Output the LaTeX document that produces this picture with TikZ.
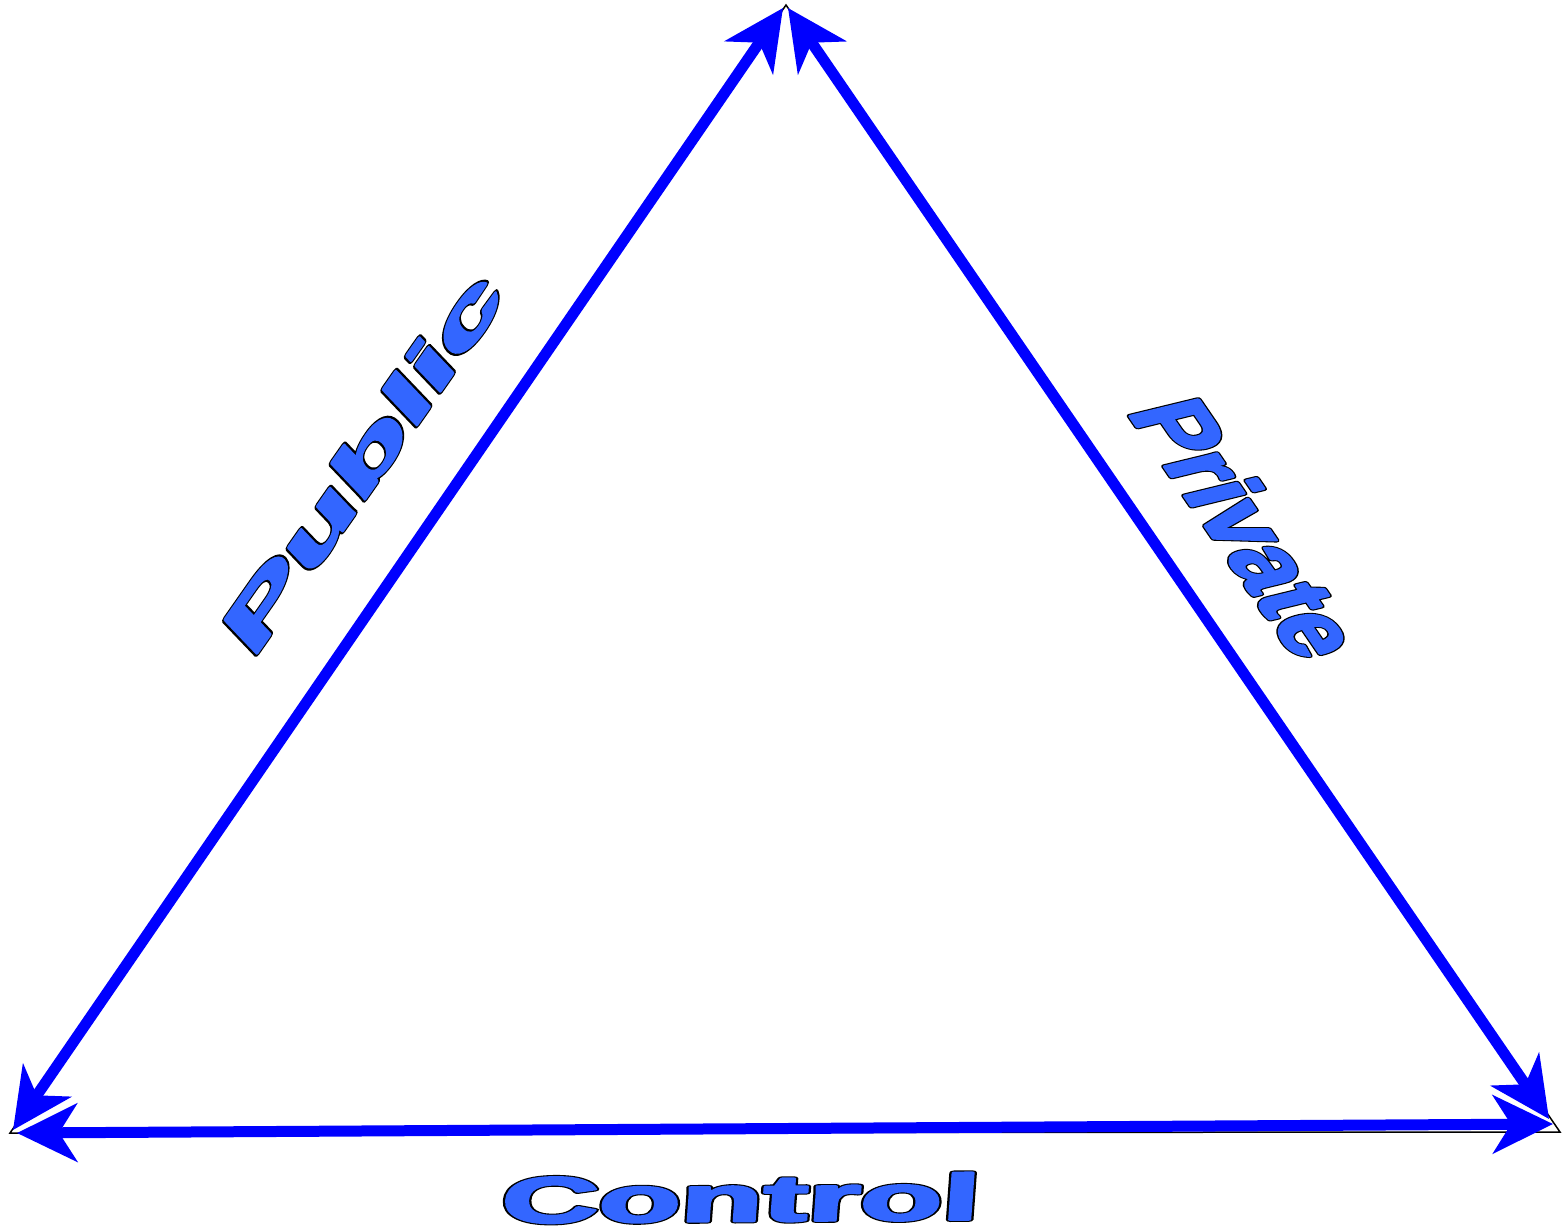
\documentclass[tikz,border=0pt]{standalone}
\usepackage{fontspec}
\setmainfont{Liberation Sans}
\usetikzlibrary{arrows.meta}
\definecolor{arrowblue}{RGB}{0,0,255}
\definecolor{wordblue}{RGB}{51,102,255}
% two layers: a black stroked copy under a blue stroked copy, giving a heavy blue word with a black outline
\newcommand\heavyword[3]{\rlap{\special{pdf:literal direct 2 Tr #3 w 1 j 0 0 0 RG 0 0 0 rg}#1}%
  \special{pdf:literal direct 2 Tr #2 w 1 j 0.2 0.4 1 RG 0.2 0.4 1 rg}#1\special{pdf:literal direct 0 Tr}}
\tikzset{
  side/.style={draw=arrowblue, line width=11pt,
    {Stealth[length=60pt,width=58pt,inset=18pt]}-{Stealth[length=60pt,width=58pt,inset=18pt]}},
  frame/.style={draw=black, line width=1.5pt, line join=miter},
  wordart/.style={inner sep=0pt, anchor=center, text=wordblue, font=\bfseries},
}
\begin{document}
\begin{tikzpicture}[x=1pt,y=-1pt]
\useasboundingbox (0,0) rectangle (1562,1229);
% thin black triangle behind the arrows
\coordinate (A) at (786,5);
\coordinate (B) at (10,1133);
\coordinate (C) at (1560,1132);
\draw[frame] (A) -- (B) -- (C) -- cycle;
% arrow end points
\coordinate (TL) at (783,8);
\coordinate (TR) at (788,8);
\coordinate (L1) at (13,1130);
\coordinate (L2) at (17,1133);
\coordinate (R1) at (1549,1119);
\coordinate (R2) at (1553,1124);
\draw[side] (TL) -- (L1);
\draw[side] (TR) -- (R1);
\draw[side] (L2) -- (R2);
% labels
\coordinate (pubc) at (362,462);
\coordinate (pric) at (1248,528);
\coordinate (conc) at (741,1198);
\node[wordart, rotate=55, xslant=0.2, xscale=2.2, font=\bfseries\fontsize{67}{70}\selectfont] (public) at (pubc) {\heavyword{Public}{2.2}{4.4}};
\node[wordart, rotate=-55.6, xslant=0.378, xscale=0.95, font=\bfseries\fontsize{96}{100}\selectfont] (private) at (pric) {\heavyword{Private}{3}{5.6}};
\node[wordart, rotate=0.4, xslant=0.08, xscale=2.07, font=\bfseries\fontsize{65}{70}\selectfont] (control) at (conc) {\heavyword{Control}{2.2}{4.4}};
\end{tikzpicture}
\end{document}
